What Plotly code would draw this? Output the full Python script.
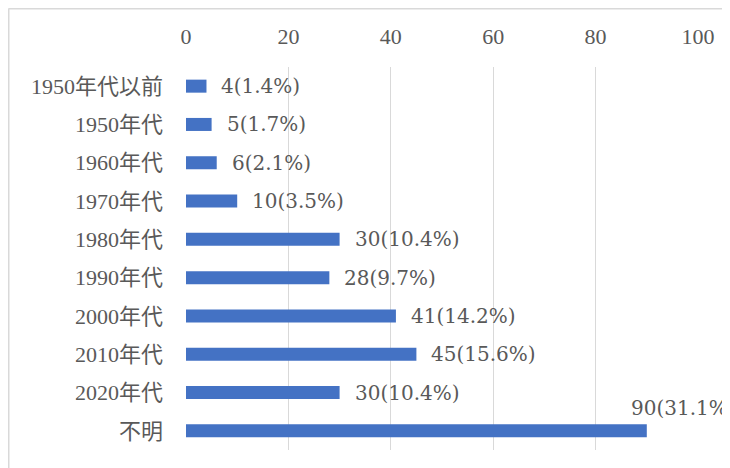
import plotly.graph_objects as go

categories = ["1950年代以前", "1950年代", "1960年代", "1970年代", "1980年代",
              "1990年代", "2000年代", "2010年代", "2020年代", "不明"]
counts = [4, 5, 6, 10, 30, 28, 41, 45, 30, 90]
percents = [1.4, 1.7, 2.1, 3.5, 10.4, 9.7, 14.2, 15.6, 10.4, 31.1]
x_ticks = [0, 20, 40, 60, 80, 100]
title_text = "図表5-1　建築年代"
n_text = "n=289"

# page offset (browser body margin)
OFF = 8
W, H = 730, 468 - OFF
# plot area in page pixels: x 186..698, y 67..450
L = 186 - OFF
R = W - (698 - OFF)
T = 67 - OFF
B = H - (450 - OFF)
pw, ph = W - L - R, H - T - B

def px_x(px):  # page pixel -> paper x
    return (px - OFF - L) / pw

def px_y(py):  # page pixel -> paper y
    return (H - B - (py - OFF)) / ph

axis_font = "Liberation Serif, Noto Sans CJK JP, serif"
label_font = "DejaVu Serif, Liberation Serif, serif"
gray = "#595959"

fig = go.Figure()
fig.add_trace(go.Bar(
    y=categories, x=counts, orientation="h",
    marker=dict(color="#4472C4", line=dict(width=0)),
    width=0.34, hoverinfo="skip",
))

annotations = []
for c, v, p in zip(categories, counts, percents):
    label = f"{v}({p}%)"
    if c == "不明":
        annotations.append(dict(x=v, y=c, xref="x", yref="y", text=label,
                                showarrow=False, xanchor="left", yanchor="middle",
                                xshift=-18, yshift=23,
                                font=dict(family=label_font, size=20, color=gray)))
    else:
        annotations.append(dict(x=v, y=c, xref="x", yref="y", text=label,
                                showarrow=False, xanchor="left", yanchor="middle",
                                xshift=13, yshift=0,
                                font=dict(family=label_font, size=20, color=gray)))

annotations.append(dict(x=px_x(38), y=px_y(6), xref="paper", yref="paper",
                        text=title_text, showarrow=False, xanchor="left", yanchor="bottom",
                        font=dict(family=axis_font, size=22, color="#000000")))
annotations.append(dict(x=px_x(608), y=px_y(6), xref="paper", yref="paper",
                        text=n_text, showarrow=False, xanchor="left", yanchor="bottom",
                        font=dict(family=axis_font, size=20, color="#404040")))

shapes = [
    dict(type="line", xref="paper", yref="paper",
         x0=px_x(8.5), x1=px_x(745), y0=px_y(8.75), y1=px_y(8.75),
         line=dict(color="#D9D9D9", width=1.5)),
    dict(type="line", xref="paper", yref="paper",
         x0=px_x(8.75), x1=px_x(8.75), y0=px_y(8.5), y1=px_y(480),
         line=dict(color="#D9D9D9", width=1.5)),
]

fig.update_layout(
    width=W, height=H,
    margin=dict(l=L, r=R, t=T, b=B, autoexpand=False),
    paper_bgcolor="white", plot_bgcolor="white",
    showlegend=False,
    font=dict(family=axis_font, size=22, color=gray),
    annotations=annotations,
    shapes=shapes,
    bargap=0.66,
)
fig.update_xaxes(range=[0, 100], side="top", tickvals=x_ticks,
                 showgrid=True, gridcolor="#D9D9D9", gridwidth=1,
                 zeroline=False, showline=False, ticks="",
                 tickfont=dict(family=axis_font, size=22, color=gray),
                 ticklabelstandoff=18)
fig.update_yaxes(range=[9.5, -0.5], showgrid=False, zeroline=False,
                 showline=False, ticks="", ticklabelstandoff=22,
                 tickfont=dict(family=axis_font, size=22, color=gray))

fig.write_html("out.html")
